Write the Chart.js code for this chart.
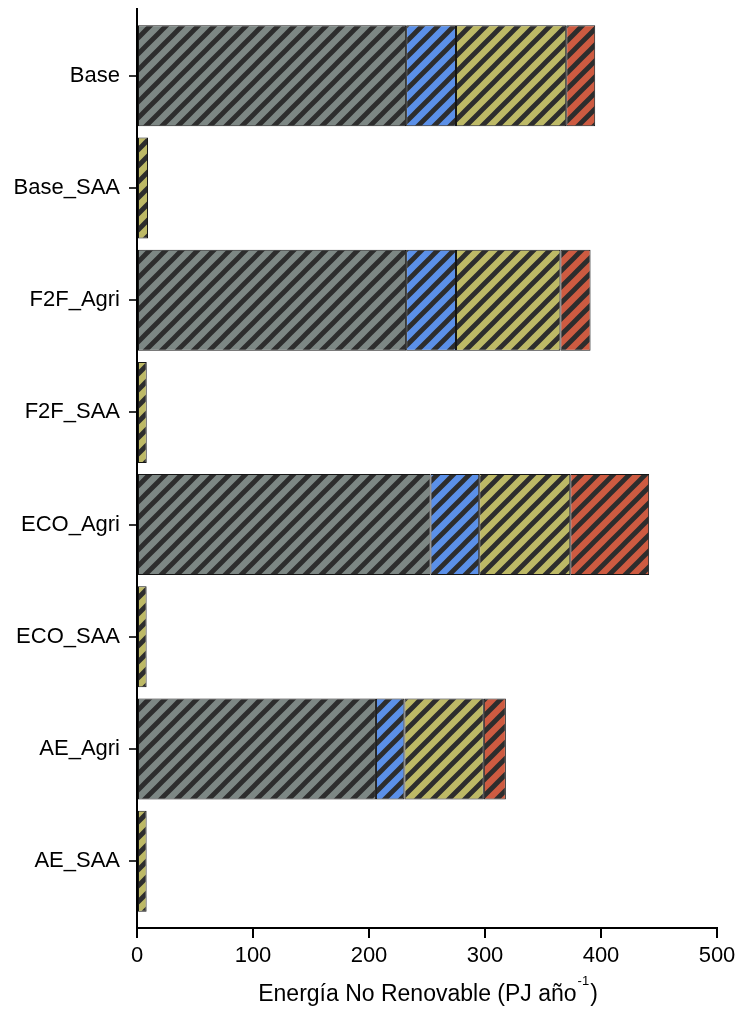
<!DOCTYPE html>
<html>
<head>
<meta charset="utf-8">
<script src="https://cdn.jsdelivr.net/npm/chart.js@4.4.1/dist/chart.umd.min.js"></script>
<style>
  html, body { margin: 0; padding: 0; background: #ffffff; }
  #wrap { width: 742px; height: 1013px; position: relative; }
</style>
</head>
<body>
<div id="wrap"><canvas id="c" width="742" height="1013"></canvas></div>
<script>
// Scenarios, top to bottom
const categories = ['Base', 'Base_SAA', 'F2F_Agri', 'F2F_SAA', 'ECO_Agri', 'ECO_SAA', 'AE_Agri', 'AE_SAA'];

// Non-renewable energy by component (PJ per year); null = no segment
const grayValues  = [232, null, 232, null, 253, null, 206, null];
const blueValues  = [43,  null, 43,  null, 42,  null, 24.5, null];
const oliveValues = [95,  9.5,  90,  8.4,  78.5, 8.3, 68.5, 8.3];
const redValues   = [25,  null, 26,  null, 68,  null, 19,  null];

const xTicks = [0, 100, 200, 300, 400, 500];

const FONT = '"Liberation Sans", Arial, Helvetica, sans-serif';

// Diagonal hatch fill: base colour with dark "/" stripes
function hatch(base) {
  const s = 16;
  const c = document.createElement('canvas');
  c.width = s; c.height = s;
  const g = c.getContext('2d');
  g.fillStyle = base;
  g.fillRect(0, 0, s, s);
  g.strokeStyle = '#2d2d2d';
  g.lineWidth = 4.8;
  g.lineCap = 'square';
  g.beginPath();
  for (const k of [-1, 0, 1]) {
    g.moveTo(k * s, s);
    g.lineTo(k * s + s, 0);
  }
  g.stroke();
  return g.createPattern(c, 'repeat');
}

function toPoints(values) {
  return values
    .map((v, i) => (v == null ? null : { x: v, y: i }))
    .filter(Boolean);
}

function series(label, values, color) {
  return {
    label,
    data: toPoints(values),
    backgroundColor: hatch(color),
    borderColor: '#151515',
    borderWidth: 1,
    borderSkipped: false,
    categoryPercentage: 1.0,
    barPercentage: 0.9
  };
}

// x-axis caption with superscript exponent
const axisCaption = {
  id: 'axisCaption',
  afterDraw(chart) {
    const { ctx, chartArea } = chart;
    const cx = (chartArea.left + chartArea.right) / 2;
    const y = chartArea.bottom + 67;
    const main = 'Energía No Renovable (PJ año';
    const sup = '-1';
    const tail = ')';
    const big = '23px ' + FONT;
    const small = '13px ' + FONT;
    ctx.save();
    ctx.fillStyle = '#000';
    ctx.textBaseline = 'middle';
    ctx.textAlign = 'left';
    ctx.font = big;
    const wMain = ctx.measureText(main).width;
    const wTail = ctx.measureText(tail).width;
    ctx.font = small;
    const wSup = ctx.measureText(sup).width;
    let x = cx - (wMain + wSup + wTail) / 2;
    ctx.font = big;
    ctx.fillText(main, x, y);
    x += wMain + 1;
    ctx.font = small;
    ctx.fillText(sup, x, y - 14);
    x += wSup + 1;
    ctx.font = big;
    ctx.fillText(tail, x, y);
    ctx.restore();
  }
};

new Chart(document.getElementById('c'), {
  type: 'bar',
  data: {
    datasets: [
      series('Componente 1', grayValues, '#7d8784'),
      series('Componente 2', blueValues, '#5b90e8'),
      series('Componente 3', oliveValues, '#bdb966'),
      series('Componente 4', redValues, '#cd5b41')
    ]
  },
  options: {
    indexAxis: 'y',
    responsive: false,
    animation: false,
    devicePixelRatio: 1,
    layout: { padding: { top: 9, right: 25, left: 0, bottom: 0 } },
    plugins: {
      legend: { display: false },
      tooltip: { enabled: false },
      title: { display: false }
    },
    scales: {
      x: {
        type: 'linear',
        stacked: true,
        min: xTicks[0],
        max: xTicks[xTicks.length - 1],
        afterFit(scale) { scale.height = 85; },
        afterBuildTicks(scale) { scale.ticks = xTicks.map(v => ({ value: v })); },
        border: { display: true, color: '#000', width: 2 },
        grid: { drawOnChartArea: false, drawTicks: true, tickLength: 10, color: '#000', lineWidth: 2 },
        ticks: { padding: 5, color: '#000', font: { size: 22, family: FONT } }
      },
      y: {
        type: 'linear',
        stacked: true,
        reverse: true,
        offset: false,
        min: -0.595,
        max: categories.length - 1 + 0.595,
        afterFit(scale) {
          scale.width = 137;
          scale.paddingTop = 0;
          scale.paddingBottom = 0;
        },
        afterBuildTicks(scale) { scale.ticks = categories.map((_, i) => ({ value: i })); },
        border: { display: true, color: '#000', width: 2 },
        grid: { offset: false, drawOnChartArea: false, drawTicks: true, tickLength: 8, color: '#333', lineWidth: 2 },
        ticks: {
          autoSkip: false,
          padding: 9,
          color: '#000',
          font: { size: 22, family: FONT },
          callback: (v) => categories[v] ?? ''
        }
      }
    }
  },
  plugins: [axisCaption]
});
</script>
</body>
</html>
